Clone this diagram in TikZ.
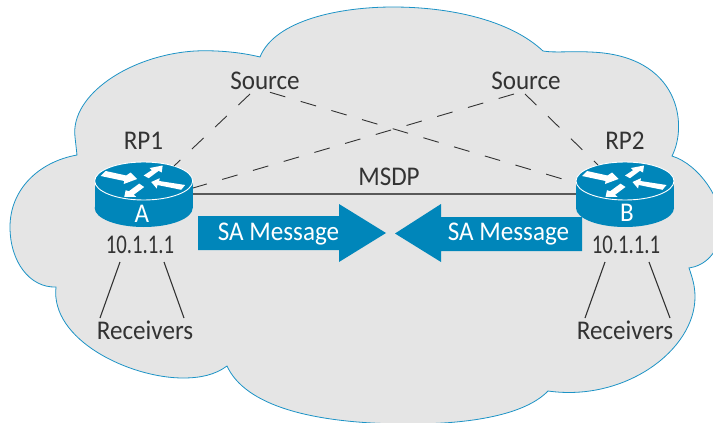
\documentclass[tikz,border=0pt]{standalone}
\usepackage{fontspec}
\setmainfont[FakeStretch=0.93]{Carlito}
\newfontfamily\ipfont[FakeStretch=0.77]{Carlito}
\usetikzlibrary{shapes.geometric}
\definecolor{ciscoblue}{HTML}{0086BA}
\definecolor{cloudgrey}{HTML}{E5E5E5}
\definecolor{cloudedge}{HTML}{1C93C6}
\definecolor{inktext}{HTML}{333333}
\tikzset{
  x=1pt,y=-1pt,
  lbl/.style={font=\fontsize{27}{30}\selectfont,text=inktext,inner sep=0pt,minimum height=26pt,align=center},
  iplbl/.style={font=\ipfont\fontsize{27}{30}\selectfont,text=inktext,inner sep=0pt,minimum height=26pt,align=center},
  whitelbl/.style={font=\fontsize{27}{30}\selectfont,text=white,inner sep=0pt},
  dashlink/.style={draw=inktext,line width=0.9pt,dash pattern=on 16pt off 16pt},
  solidlink/.style={draw=inktext,line width=1.1pt},
  msdplink/.style={draw=black!65,line width=1.5pt},
  bigarrow/.style={fill=ciscoblue,draw=none},
  router/.pic={
    \fill[ciscoblue] (-49,0) rectangle (49,27);
    \fill[ciscoblue] (0,27) ellipse [x radius=49,y radius=19];
    \node[ellipse,fill=ciscoblue,draw=white,line width=0.9pt,minimum width=98pt,minimum height=38pt,inner sep=0pt] (top) at (0,0) {};
    \fill[white] (-43,-5)--(-38,-10)--(-17.5,-5.5)--(-13,-8.5)--(-6.5,-2)--(-20,3)--(-19.5,0)--cycle;
    \fill[white] (0,-5.5)--(8,-10.8)--(6,-13)--(19,-15.5)--(18,-8.5)--(15,-10.2)--(5,-2.8)--cycle;
    \fill[white] (7.5,1)--(16,-2.8)--(15.5,0)--(41.5,4)--(37.5,8.8)--(13.8,4)--(13,7.5)--cycle;
    \fill[white] (-19.5,16)--(-18,9.2)--(-14.8,10.2)--(-4.5,2.6)--(.5,6)--(-10,13.8)--(-7.5,15.8)--cycle;
  },
}
\begin{document}
\begin{tikzpicture}
\useasboundingbox (0,0) rectangle (713,423);
\clip (0,0) rectangle (713,423);
% cloud
\draw[fill=cloudgrey,draw=cloudedge,line width=0.8pt,line join=miter]
  (77,155) .. controls (38,162) and (10,190) .. (10,227)
  .. controls (10,262) and (30,288) .. (56,287)
  .. controls (50,340) and (130,378) .. (183,378)
  .. controls (200,378) and (215,375) .. (227,366)
  .. controls (245,405) and (310,424) .. (410,424)
  .. controls (470,424) and (525,415) .. (548,391)
  .. controls (625,402) and (695,350) .. (695,297)
  .. controls (695,285) and (692,277) .. (689,268)
  .. controls (703,266) and (720,255) .. (722,225)
  .. controls (722,200) and (700,165) .. (672,156)
  .. controls (688,125) and (680,55) .. (590,52)
  .. controls (570,51) and (555,53) .. (543,51)
  .. controls (510,20) and (450,7) .. (393,7)
  .. controls (340,7) and (275,20) .. (260,57)
  .. controls (240,52) and (215,50) .. (195,51)
  .. controls (130,55) and (70,95) .. (75,137)
  -- (77,155) -- cycle;
% text nodes
\node[lbl] (s1) at (265,81) {Source};
\node[lbl] (s2) at (526,81) {Source};
\node[lbl] (rp1) at (143.5,141) {RP1};
\node[lbl] (rp2) at (625,141) {RP2};
\node[lbl] (msdp) at (389,177) {MSDP};
\node[iplbl] (ip1) at (140,245) {10.1.1.1};
\node[iplbl] (ip2) at (626,245) {10.1.1.1};
\node[lbl] (rx1) at (145,330) {Receivers};
\node[lbl] (rx2) at (625,330) {Receivers};
% routers
\pic (ra) at (143.7,181) {router};
\pic (rb) at (625,181) {router};
\node[whitelbl] (la) at (142,214) {A};
\node[whitelbl] (lb) at (627,213) {B};
% connectors
\draw[dashlink] ([shift={(-15,13)}]s1.center) -- ([shift={(30.3,-15)}]ratop.center);
\draw[dashlink] ([shift={(5,11.3)}]s1.center) -- ([shift={(-49,2)}]rbtop.center);
\draw[dashlink] ([shift={(-12,13)}]s2.center) -- ([shift={(49.3,7)}]ratop.center);
\draw[dashlink] ([shift={(-1,13)}]s2.center) -- ([shift={(-27,-16)}]rbtop.center);
\draw[msdplink] ([shift={(49,13)}]ratop.center) -- ([shift={(-49,13)}]rbtop.center);
\draw[solidlink] ([shift={(-20,17)}]ip1.center) -- ([shift={(-45,-12)}]rx1.center);
\draw[solidlink] ([shift={(24,17)}]ip1.center) -- ([shift={(39,-12)}]rx1.center);
\draw[solidlink] ([shift={(-21,17)}]ip2.center) -- ([shift={(-40,-12)}]rx2.center);
\draw[solidlink] ([shift={(23,17)}]ip2.center) -- ([shift={(45,-12)}]rx2.center);
% SA arrows
\fill[bigarrow] (198,216) -- (339,216) -- (339,204) -- (386,233) -- (339,262) -- (339,250) -- (198,250) -- cycle;
\fill[bigarrow] (582,217) -- (441,217) -- (441,204) -- (395,233.5) -- (441,262) -- (441,251) -- (582,251) -- cycle;
\node[whitelbl] (sa1) at (278.5,234) {SA Message};
\node[whitelbl] (sa2) at (508.5,234) {SA Message};
\end{tikzpicture}
\end{document}
